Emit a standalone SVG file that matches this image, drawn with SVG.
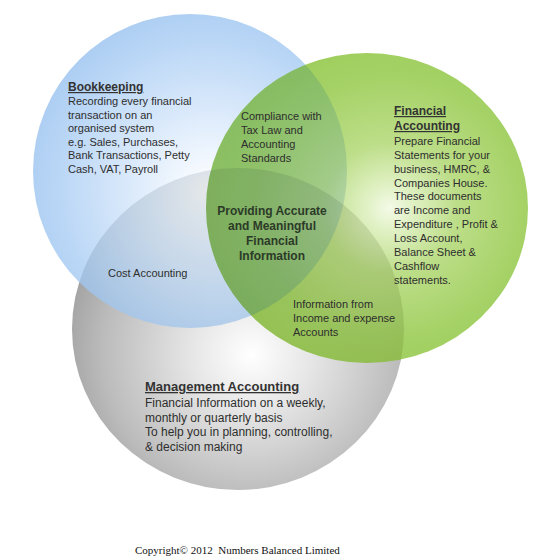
<svg xmlns="http://www.w3.org/2000/svg" width="536" height="559" viewBox="0 0 536 559">
  <defs>
    <radialGradient id="gBlue" cx="0.56" cy="0.56" r="0.62" fx="0.56" fy="0.56">
      <stop offset="0" stop-color="#ffffff"/>
      <stop offset="0.3" stop-color="#e0edfc"/>
      <stop offset="0.75" stop-color="#b1d1f5"/>
      <stop offset="1" stop-color="#9ac3ef"/>
    </radialGradient>
    <radialGradient id="gGreen" cx="0.57" cy="0.5" r="0.6" fx="0.57" fy="0.5">
      <stop offset="0" stop-color="#f2f9e4"/>
      <stop offset="0.12" stop-color="#dcefbc"/>
      <stop offset="0.35" stop-color="#b3d977"/>
      <stop offset="0.7" stop-color="#98cb50"/>
      <stop offset="1" stop-color="#8cc43e"/>
    </radialGradient>
    <radialGradient id="gGray" cx="0.54" cy="0.57" r="0.6" fx="0.54" fy="0.58">
      <stop offset="0" stop-color="#ffffff"/>
      <stop offset="0.3" stop-color="#e6e6e6"/>
      <stop offset="0.75" stop-color="#bbbbbb"/>
      <stop offset="1" stop-color="#9c9c9c"/>
    </radialGradient>
    <clipPath id="clipGreen"><ellipse cx="367" cy="208" rx="161" ry="155"/></clipPath>
    <clipPath id="clipBlue"><circle cx="190" cy="171" r="157"/></clipPath>
  </defs>
  <style>
    .t { font-family: "Liberation Sans", Arial, sans-serif; font-size: 11px; fill: #2e2e2e; }
    .h { font-family: "Liberation Sans", Arial, sans-serif; font-size: 12px; font-weight: bold; fill: #333333; text-decoration: underline; }
    .m { font-family: "Liberation Sans", Arial, sans-serif; font-size: 12px; fill: #2e2e2e; }
    .c { font-family: "Liberation Sans", Arial, sans-serif; font-size: 12px; font-weight: bold; fill: #2c3a28; text-anchor: middle; }
    .cp { font-family: "Liberation Serif", "Times New Roman", serif; font-size: 11px; fill: #111111; white-space: pre; }
  </style>
  <rect width="536" height="559" fill="#ffffff"/>

  <g id="circles">
    <g id="management-circle">
      <ellipse cx="238" cy="329" rx="166" ry="161" fill="url(#gGray)"/>
    </g>
    <g id="bookkeeping-circle">
      <circle cx="190" cy="171" r="157" fill="url(#gBlue)" opacity="0.86"/>
    </g>
    <g id="financial-circle">
      <ellipse cx="367" cy="208" rx="161" ry="155" fill="url(#gGreen)" opacity="0.87"/>
    </g>
    <g id="overlap-shading">
      <g clip-path="url(#clipBlue)">
        <ellipse cx="238" cy="329" rx="166" ry="161" fill="#2f4f78" opacity="0.07"/>
      </g>
      <g clip-path="url(#clipGreen)">
        <ellipse cx="238" cy="329" rx="166" ry="161" fill="#5a6e2a" opacity="0.1"/>
        <circle cx="190" cy="171" r="157" fill="#3a7f86" opacity="0.16"/>
      </g>
    </g>
  </g>

  <g id="connectors"/>

  <g id="bookkeeping">
    <text class="h" x="68" y="91">Bookkeeping</text>
    <text class="t" x="68" y="105">Recording every financial</text>
    <text class="t" x="68" y="118.5">transaction on an</text>
    <text class="t" x="68" y="132">organised system</text>
    <text class="t" x="68" y="145.5">e.g. Sales, Purchases,</text>
    <text class="t" x="68" y="159">Bank Transactions, Petty</text>
    <text class="t" x="68" y="172.5">Cash, VAT, Payroll</text>
  </g>

  <g id="compliance">
    <text class="t" x="241" y="120">Compliance with</text>
    <text class="t" x="241" y="133.5">Tax Law and</text>
    <text class="t" x="241" y="147.5">Accounting</text>
    <text class="t" x="241" y="161.5">Standards</text>
  </g>

  <g id="financial-accounting">
    <text class="h" x="394" y="115">Financial </text>
    <text class="h" x="394" y="130">Accounting</text>
    <text class="t" x="394" y="145">Prepare Financial</text>
    <text class="t" x="394" y="159">Statements for your</text>
    <text class="t" x="394" y="173">business, HMRC, &amp;</text>
    <text class="t" x="394" y="187">Companies House.</text>
    <text class="t" x="394" y="200">These documents</text>
    <text class="t" x="394" y="214">are Income and</text>
    <text class="t" x="394" y="228">Expenditure , Profit &amp;</text>
    <text class="t" x="394" y="241.5">Loss Account,</text>
    <text class="t" x="394" y="256">Balance Sheet &amp;</text>
    <text class="t" x="394" y="270">Cashflow</text>
    <text class="t" x="394" y="284">statements.</text>
  </g>

  <g id="centre">
    <text class="c" x="272" y="215">Providing Accurate</text>
    <text class="c" x="272" y="230">and Meaningful</text>
    <text class="c" x="272" y="245">Financial</text>
    <text class="c" x="272" y="260">Information</text>
  </g>

  <g id="cost-accounting">
    <text class="t" x="108" y="277">Cost Accounting</text>
  </g>

  <g id="income-expense">
    <text class="t" x="293" y="308">Information from</text>
    <text class="t" x="293" y="321.5">Income and expense</text>
    <text class="t" x="293" y="335.5">Accounts</text>
  </g>

  <g id="management-accounting">
    <text class="h" x="145" y="391" style="font-size:13px">Management Accounting</text>
    <text class="m" x="145" y="407">Financial Information on a weekly,</text>
    <text class="m" x="145" y="421.5">monthly or quarterly basis</text>
    <text class="m" x="145" y="435.5">To help you in planning, controlling,</text>
    <text class="m" x="145" y="450.5">&amp; decision making</text>
  </g>

  <g id="copyright">
    <text class="cp" x="135" y="554">Copyright© 2012  Numbers Balanced Limited</text>
  </g>
</svg>
